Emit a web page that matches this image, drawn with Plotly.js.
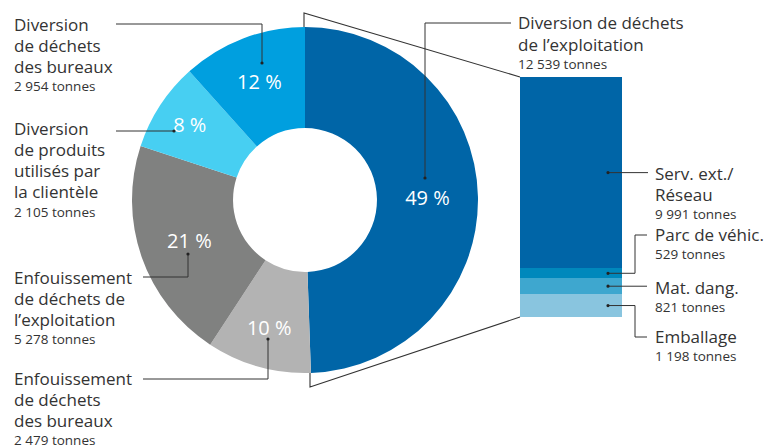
<!DOCTYPE html>
<html><head><meta charset="utf-8">
<script src="https://cdn.plot.ly/plotly-3.0.1.min.js"></script>
<style>html,body{margin:0;padding:0;background:#fff}#chart{width:771px;height:448px}</style>
</head><body><div id="chart"></div>
<script>
// ---- data ----
const pieLabels = ["Diversion de déchets de l’exploitation", "Enfouissement de déchets des bureaux", "Enfouissement de déchets de l’exploitation", "Diversion de produits utilisés par la clientèle", "Diversion de déchets des bureaux"];
const pieValues = [12539, 2479, 5278, 2105, 2954];
const pieLabelLines = [
  ["Diversion de déchets", "de l’exploitation"],
  ["Enfouissement", "de déchets", "des bureaux"],
  ["Enfouissement", "de déchets de", "l’exploitation"],
  ["Diversion", "de produits", "utilisés par", "la clientèle"],
  ["Diversion", "de déchets", "des bureaux"]
];
const barLabels = ["Emballage", "Mat. dang.", "Parc de véhic.", "Serv. ext./ Réseau"];
const barValues = [1198, 821, 529, 9991];
const barLabelLines = [["Emballage"], ["Mat. dang."], ["Parc de véhic."], ["Serv. ext./", "Réseau"]];

// ---- styles / layout config ----
const W = 771, H = 448;
const pieColors = ["#0065A7", "#B3B3B3", "#808180", "#47CFF2", "#009FDF"];
const barColors = ["#89C5DF", "#3EA7CF", "#0088BC", "#0065A7"];
const FONT = "'Open Sans', Lato, sans-serif";
const TXT = "#333333";
const LINE = "#333333";
const pieCx = 305, pieCy = 200, pieR = 173;
const barL = 520, barR = 622, barT = 77, barB = 317;

const X = px => px / W;
const Y = py => 1 - py / H;

const pieTotal = pieValues.reduce((a, b) => a + b, 0);
const barTotal = barValues.reduce((a, b) => a + b, 0);
const fmt = v => String(v).replace(/\B(?=(\d{3})+(?!\d))/g, " ") + " tonnes";

const yDom = [Y(barB), Y(barT)];
const barY = v => yDom[0] + v / barTotal * (yDom[1] - yDom[0]);   // value -> paper
const barYpx = v => (1 - barY(v)) * H;

// cumulative midpoints of bar segments
const barMid = [];
let acc = 0;
barValues.forEach(v => { barMid.push(barYpx(acc + v / 2)); acc += v; });

const traces = [{
  type: "pie",
  values: pieValues,
  labels: pieLabels,
  text: pieValues.map(v => Math.round(v / pieTotal * 100) + " %"),
  textinfo: "text",
  textposition: "inside",
  insidetextorientation: "horizontal",
  insidetextfont: {family: FONT, size: 20, color: "#ffffff"},
  sort: false,
  direction: "clockwise",
  rotation: 0,
  hole: 0.416,
  marker: {colors: pieColors, line: {width: 0}},
  domain: {x: [X(pieCx - pieR), X(pieCx + pieR)], y: [Y(pieCy + pieR), Y(pieCy - pieR)]},
  showlegend: false,
  hoverinfo: "label+value"
}];
barValues.forEach((v, i) => {
  traces.push({
    type: "bar", x: ["a"], y: [v], name: barLabels[i],
    marker: {color: barColors[i], line: {width: 0}},
    showlegend: false, xaxis: "x", yaxis: "y", hoverinfo: "name+y"
  });
});

// ---- annotations ----
const annotations = [];
const LS = 21.2, TS = 20;
function block(px, py, lines, value) {
  lines.forEach((t, k) => annotations.push({
    xref: "paper", yref: "paper", x: X(px), y: Y(py + k * LS), xanchor: "left", yanchor: "middle",
    text: t, showarrow: false, font: {family: FONT, size: 17, color: TXT}, borderpad: 0
  }));
  annotations.push({
    xref: "paper", yref: "paper", x: X(px), y: Y(py + (lines.length - 1) * LS + TS), xanchor: "left", yanchor: "middle",
    text: fmt(value), showarrow: false, font: {family: FONT, size: 13.5, color: TXT}, borderpad: 0
  });
}
const pieBlockPos = [[517, 23], [13, 378], [13, 277], [13, 128], [13, 24]];
pieLabelLines.forEach((l, i) => block(pieBlockPos[i][0], pieBlockPos[i][1], l, pieValues[i]));
const barBlockX = 654;
const barBlockY = [336, 287, 234, 173];
barLabelLines.forEach((l, i) => block(barBlockX, barBlockY[i], l, barValues[i]));

// ---- leader lines ----
const shapes = [];
function path(pts, w) {
  const d = pts.map((p, k) => (k ? "L" : "M") + X(p[0]) + "," + Y(p[1])).join(" ");
  shapes.push({type: "path", xref: "paper", yref: "paper", path: d, line: {color: LINE, width: w || 1}});
}
function dot(px, py) {
  const r = 1.6;
  shapes.push({type: "circle", xref: "paper", yref: "paper", x0: X(px - r), x1: X(px + r), y0: Y(py + r), y1: Y(py - r),
    fillcolor: "#222", line: {width: 0}});
}
// pie leaders
const pieLeaders = [
  [[425, 178], [425, 23], [511, 23]],
  [[268, 339], [268, 379], [143, 379]],
  [[188, 254], [188, 277], [143, 277]],
  [[174, 131], [116, 131]],
  [[262, 63], [262, 24], [116, 24]]
];
pieLeaders.forEach(p => { path(p); dot(p[0][0], p[0][1]); });
// bar leaders
const dx = 608;
path([[dx, barMid[3]], [648, barMid[3]]]); dot(dx, barMid[3]);
path([[dx, barMid[2]], [635, barMid[2]], [635, 235], [647, 235]]); dot(dx, barMid[2]);
path([[dx, barMid[1]], [647, barMid[1]]]); dot(dx, barMid[1]);
path([[dx, barMid[0]], [635, barMid[0]], [635, 337], [647, 337]]); dot(dx, barMid[0]);
// connectors pie -> bar
path([[304, pieCy - pieR], [304, 13], [barL, barYpx(barTotal)]], 1.1);
path([[310, pieCy + pieR], [310, 387], [barL, barYpx(0)]], 1.1);

const layout = {
  width: W, height: H,
  margin: {l: 0, r: 0, t: 0, b: 0},
  paper_bgcolor: "#ffffff", plot_bgcolor: "rgba(0,0,0,0)",
  barmode: "stack", bargap: 0,
  xaxis: {domain: [X(barL), X(barR)], range: [-0.5, 0.5], visible: false, fixedrange: true, type: "category"},
  yaxis: {domain: yDom, range: [0, barTotal], visible: false, fixedrange: true},
  annotations: annotations,
  shapes: shapes,
  showlegend: false,
  font: {family: FONT, color: TXT}
};
Plotly.newPlot("chart", traces, layout, {displayModeBar: false, staticPlot: true});
</script>
</body></html>
